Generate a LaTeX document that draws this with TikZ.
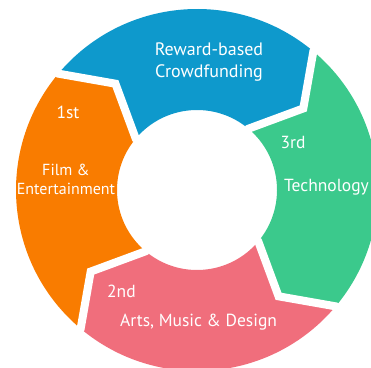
\documentclass[tikz,border=0pt]{standalone}
\usepackage{fontspec}
\setmainfont{PT Sans}
\definecolor{segblue}{HTML}{0E99CC}
\definecolor{seggreen}{HTML}{3BC98C}
\definecolor{segpink}{HTML}{F06E7C}
\definecolor{segorange}{HTML}{F97C00}
\tikzset{seglabel/.style={text=white,inner sep=0pt,font=\fontsize{17.5}{22}\selectfont}}

\begin{document}
\begin{tikzpicture}[x=1pt,y=1pt]
\useasboundingbox (0,0) rectangle (371,367);
\clip (0,0) rectangle (371,367);
\begin{scope}[shift={(197,177)}]
\foreach \a/\b/\c in {140/50/segblue,50/-40/seggreen,-40/-130/segpink,230/140/segorange}
  \fill[\c] (\a:181) arc[start angle=\a,end angle=\b,radius=181] -- ({\b-12.5}:134)
    -- (\b:80) arc[start angle=\b,end angle=\a,radius=80] -- ({\a-12.5}:134) -- cycle;
\foreach \b in {140,50,-40,-130}
  \draw[white,line width=8,line join=miter] (\b:200) -- (\b:181) -- ({\b-12.5}:134) -- (\b:80) -- (\b:70);
\end{scope}
\node[seglabel,align=center,font=\fontsize{18}{22}\selectfont] (reward) at (209,305) {Reward-based\\Crowdfunding};
\node[seglabel] (first) at (68,255) {1st};
\node[seglabel,align=center,font=\fontsize{16}{19}\selectfont] (film) at (66,188) {Film \&\\Entertainment};
\node[seglabel] (third) at (293,225) {3rd};
\node[seglabel,anchor=base west] (tech) at (284,176) {Technology};
\node[seglabel,anchor=base west] (second) at (107,70) {2nd};
\node[seglabel,anchor=base west] (arts) at (120,41) {Arts, Music \& Design};
\end{tikzpicture}
\end{document}
